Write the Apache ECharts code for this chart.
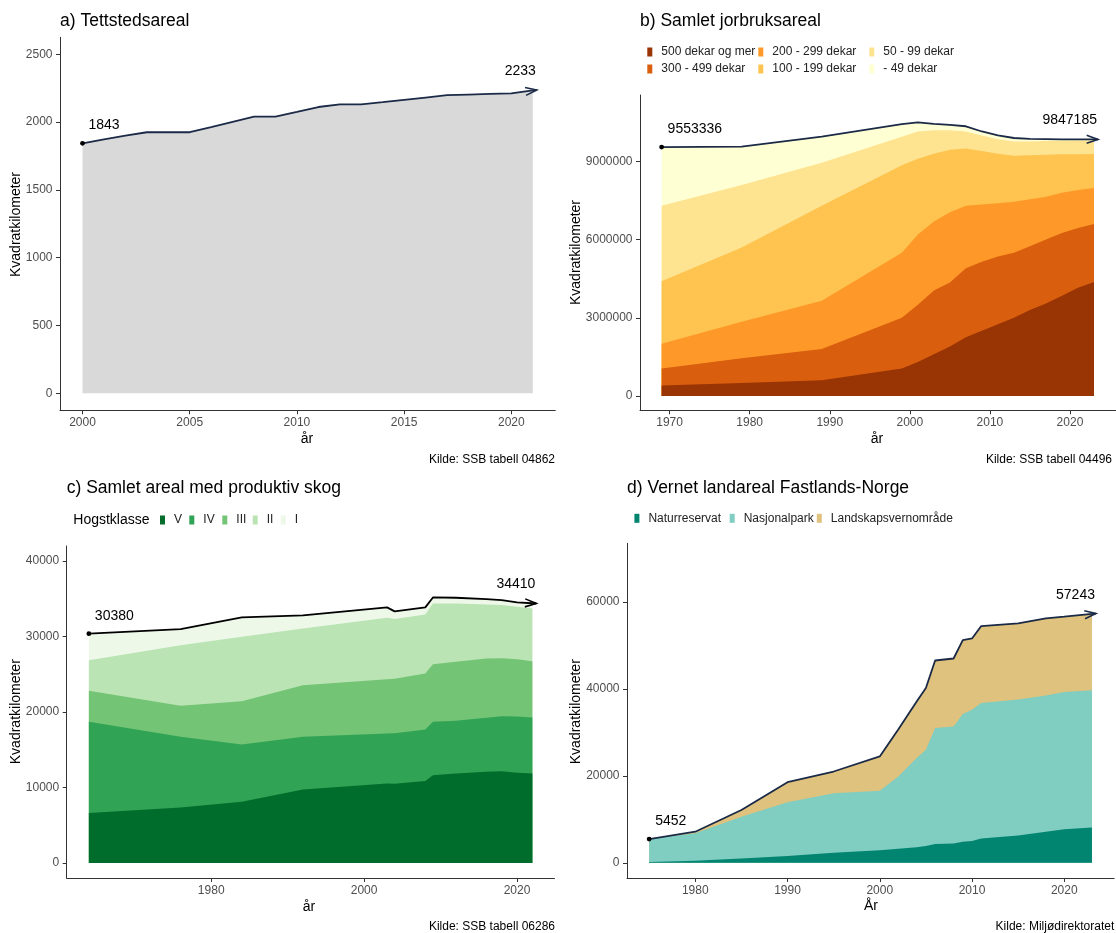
<!DOCTYPE html>
<html><head><meta charset="utf-8">
<script src="https://cdn.jsdelivr.net/npm/echarts@6/dist/echarts.min.js"></script>
<style>html,body{margin:0;padding:0;background:#fff}#c{width:1116px;height:933px}</style>
</head><body><div id="c"></div>
<script>
// ---------- a) Tettstedsareal ----------
const yearsA = [2000,2001,2002,2003,2004,2005,2006,2007,2008,2009,2010,2011,2012,2013,2014,2015,2016,2017,2018,2019,2020,2021];
const tettsted = [1843,1872,1900,1925,1925,1925,1963,2002,2040,2040,2075,2111,2131,2131,2147,2164,2181,2198,2203,2208,2212,2233];
const xTicksA = [2000,2005,2010,2015,2020];
const yTicksA = [0,500,1000,1500,2000,2500];

// ---------- b) Samlet jorbruksareal ----------
const yearsB = [1969,1979,1989,1999,2001,2003,2005,2007,2009,2011,2013,2015,2017,2019,2021,2023];
const namesB = ['500 dekar og mer','300 - 499 dekar','200 - 299 dekar','100 - 199 dekar','50 - 99 dekar','- 49 dekar'];
const b500 = [400000,500000,600000,1050000,1300000,1600000,1900000,2250000,2500000,2750000,3000000,3300000,3550000,3850000,4150000,4370000];
const b300 = [650000,950000,1200000,1950000,2200000,2450000,2450000,2650000,2650000,2600000,2500000,2450000,2450000,2400000,2300000,2230000];
const b200 = [950000,1400000,1850000,2500000,2700000,2650000,2700000,2400000,2200000,2050000,1950000,1800000,1650000,1550000,1450000,1380000];
const b100 = [2400000,2850000,3650000,3350000,2900000,2600000,2400000,2200000,2050000,1900000,1770000,1690000,1610000,1480000,1380000,1310000];
const b50  = [2900000,2400000,1650000,1100000,1050000,900000,750000,650000,600000,550000,550000,530000,520000,510000,520000,510000];
const b49  = [2253336,1470000,1000000,480000,350000,240000,200000,200000,150000,150000,130000,100000,80000,60000,50000,47185];
const totalB = [9553336,9570000,9950000,10430000,10500000,10440000,10400000,10350000,10150000,10000000,9900000,9870000,9860000,9850000,9850000,9847185];
const xTicksB = [1970,1980,1990,2000,2010,2020];
const yTicksB = [0,3000000,6000000,9000000];

// ---------- c) Samlet areal med produktiv skog ----------
const yearsC = [1964,1976,1984,1992,2003,2004,2008,2009,2012,2016,2018,2020,2022];
const namesC = ['V','IV','III','II','I'];
const cV   = [6630,7340,8090,9720,10520,10500,10870,11620,11850,12070,12150,11950,11850];
const cIV  = [12070,9370,7600,6990,6630,6700,6810,7080,6980,7160,7300,7450,7420];
const cIII = [4110,4110,5750,6850,7200,7200,7430,7640,7820,7870,7690,7600,7470];
const cII  = [4060,8040,8530,7510,8140,7910,7820,8050,7740,7160,7030,6950,6990];
const cI   = [3510,2120,2560,1730,1370,1020,930,790,750,700,660,570,680];
const totalC = [30380,30980,32530,32800,33860,33330,33860,35180,35140,34960,34830,34520,34410];
const xTicksC = [1980,2000,2020];
const yTicksC = [0,10000,20000,30000,40000];

// ---------- d) Vernet landareal Fastlands-Norge ----------
const yearsD = [1975,1980,1985,1990,1995,2000,2002,2004,2005,2006,2008,2009,2010,2011,2015,2018,2020,2023];
const namesD = ['Naturreservat','Nasjonalpark','Landskapsvernområde'];
const dNR = [200,450,1000,1550,2300,2900,3250,3600,3850,4300,4450,4850,5000,5600,6250,7150,7700,8100];
const dNP = [5252,6320,9600,12370,13700,13700,16600,20480,22150,26700,26930,29380,30230,31170,31290,31310,31600,31600];
const dLV = [0,380,1550,4620,5000,7860,10840,13000,14230,15540,15620,17000,16380,17690,17540,17770,17310,17543];
const totalD = [5452,7150,12150,18540,21000,24460,30690,37080,40230,46540,47000,51230,51610,54460,55080,56230,56610,57243];
const xTicksD = [1980,1990,2000,2010,2020];
const yTicksD = [0,20000,40000,60000];

const FONT = '"Liberation Sans", Arial, sans-serif';
const NAVY = '#1b2a47';

function pairs(xs, ys) { return xs.map((x, i) => [x, ys[i]]); }

// running sums of the stacked layers (bottom layer first)
function cumulate(layers) {
  const out = [];
  layers.forEach((ys, k) => {
    out.push(ys.map((v, i) => v + (k ? out[k - 1][i] : 0)));
  });
  return out;
}

function axis(gridIndex, min, max, ticks, isX) {
  return {
    type: 'value', gridIndex, min, max,
    axisLine: { show: true, onZero: false, lineStyle: { color: '#333', width: 1 } },
    axisTick: { show: true, length: 4, customValues: ticks, lineStyle: { color: '#333', width: 1 } },
    axisLabel: { customValues: ticks, formatter: v => String(v), color: '#4d4d4d', fontSize: 12, fontFamily: FONT, margin: isX ? 6.5 : 7.5 },
    splitLine: { show: false }
  };
}

function areaSeries(name, color, xs, ys, gi) {
  return {
    type: 'line', name, xAxisIndex: gi, yAxisIndex: gi, color,
    data: pairs(xs, ys), showSymbol: false, symbol: 'none', silent: true,
    lineStyle: { width: 0, color }, itemStyle: { color },
    areaStyle: { color, opacity: 1, origin: 0 }, z: 2
  };
}

function totalLine(name, color, xs, ys, gi) {
  return {
    type: 'line', name, xAxisIndex: gi, yAxisIndex: gi, data: pairs(xs, ys),
    showSymbol: false, symbol: 'none', silent: true,
    lineStyle: { width: 1.8, color }, z: 5
  };
}

function annot(gi, xs, ys, color) {
  const n = xs.length;
  return {
    type: 'custom', xAxisIndex: gi, yAxisIndex: gi, z: 10, silent: true,
    encode: { x: 0, y: 1 },
    data: [[xs[0], ys[0], xs[0], ys[0], 0], [xs[n - 1], ys[n - 1], xs[n - 2], ys[n - 2], 1]],
    renderItem(params, api) {
      const p = api.coord([api.value(0), api.value(1)]);
      const q = api.coord([api.value(2), api.value(3)]);
      const kind = api.value(4);
      const label = String(api.value(1));
      const ts = { text: label, fontSize: 14, fontFamily: FONT, fill: '#000', verticalAlign: 'middle' };
      if (kind === 0) {
        return { type: 'group', children: [
          { type: 'circle', shape: { cx: p[0], cy: p[1], r: 2.4 }, style: { fill: '#000' } },
          { type: 'text', x: p[0] + 6, y: p[1] - 18, style: Object.assign({ align: 'left' }, ts) }
        ] };
      }
      const ang = Math.atan2(p[1] - q[1], p[0] - q[0]);
      const tip = [p[0] + 4 * Math.cos(ang), p[1] + 4 * Math.sin(ang)];
      const L = 12, h = 0.34;
      const a1 = [tip[0] - L * Math.cos(ang - h), tip[1] - L * Math.sin(ang - h)];
      const a2 = [tip[0] - L * Math.cos(ang + h), tip[1] - L * Math.sin(ang + h)];
      return { type: 'group', children: [
        { type: 'polyline', shape: { points: [p, tip] }, style: { stroke: color, lineWidth: 1.8, fill: null } },
        { type: 'polyline', shape: { points: [a1, tip, a2] }, style: { stroke: color, lineWidth: 1.6, fill: null } },
        { type: 'text', x: p[0] + 3, y: p[1] - 19, style: Object.assign({ align: 'right' }, ts) }
      ] };
    }
  };
}

function legendItem(name, left, cy) {
  return {
    data: [name], left, top: cy - 7, orient: 'horizontal', padding: 0,
    itemWidth: 5, itemHeight: 9, icon: 'rect', selectedMode: false,
    itemStyle: { borderWidth: 0 },
    textStyle: { fontSize: 12, color: '#222', fontFamily: FONT, lineHeight: 14, padding: [0, 0, 0, 4] }
  };
}

function txt(text, x, y, size, align, opts) {
  return Object.assign({
    type: 'text', x, y, silent: true,
    style: { text, fontSize: size, fontFamily: FONT, fill: '#000', align, verticalAlign: 'middle' }
  }, opts || {});
}

const colorsB = ['#993404','#d95f0e','#fe9929','#fec44f','#fee391','#ffffd4'];
const colorsC = ['#006d2c','#31a354','#74c476','#bae4b3','#edf8e9'];
const colorsD = ['#018571','#80cdc1','#dfc27d'];

const cumB = cumulate([b500, b300, b200, b100, b50, b49]);
const cumC = cumulate([cV, cIV, cIII, cII, cI]);
const cumD = cumulate([dNR, dNP, dLV]);

const series = [];
// a
series.push({
  type: 'line', name: 'Tettstedsareal', xAxisIndex: 0, yAxisIndex: 0, data: pairs(yearsA, tettsted),
  showSymbol: false, symbol: 'none', silent: true, lineStyle: { width: 0 },
  areaStyle: { color: '#d9d9d9', opacity: 1, origin: 0 }, z: 2
});
series.push(totalLine('Totalt a', NAVY, yearsA, tettsted, 0));
series.push(annot(0, yearsA, tettsted, NAVY));
// stacked panels: draw top cumulative layer first so lower layers paint over it
function pushStack(cum, names, colors, xs, gi) {
  for (let k = cum.length - 1; k >= 0; k--) series.push(areaSeries(names[k], colors[k], xs, cum[k], gi));
}
pushStack(cumB, namesB, colorsB, yearsB, 1);
series.push(totalLine('Totalt b', NAVY, yearsB, totalB, 1));
series.push(annot(1, yearsB, totalB, NAVY));
pushStack(cumC, namesC, colorsC, yearsC, 2);
series.push(totalLine('Totalt c', '#000000', yearsC, totalC, 2));
series.push(annot(2, yearsC, totalC, '#000000'));
pushStack(cumD, namesD, colorsD, yearsD, 3);
series.push(totalLine('Totalt d', NAVY, yearsD, totalD, 3));
series.push(annot(3, yearsD, totalD, NAVY));

const option = {
  animation: false,
  backgroundColor: '#ffffff',
  textStyle: { fontFamily: FONT },
  grid: [
    { left: 60, top: 37.3, width: 495.3, height: 373, outerBoundsMode: 'none', containLabel: false },
    { left: 640, top: 95, width: 475.6, height: 315.3, outerBoundsMode: 'none', containLabel: false },
    { left: 66.7, top: 546, width: 487.8, height: 332, outerBoundsMode: 'none', containLabel: false },
    { left: 627, top: 543.3, width: 487.1, height: 334.7, outerBoundsMode: 'none', containLabel: false }
  ],
  xAxis: [
    axis(0, 1998.95, 2022.05, xTicksA, true),
    axis(1, 1966.3, 2025.7, xTicksB, true),
    axis(2, 1961.1, 2024.9, xTicksC, true),
    axis(3, 1972.6, 2025.4, xTicksD, true)
  ],
  yAxis: [
    axis(0, -125, 2625, yTicksA, false),
    axis(1, -550000, 11550000, yTicksB, false),
    axis(2, -2000, 42000, yTicksC, false),
    axis(3, -3500, 73500, yTicksD, false)
  ],
  legend: [
    legendItem(namesB[0], 647.3, 52), legendItem(namesB[1], 647.3, 69),
    legendItem(namesB[2], 758.3, 52), legendItem(namesB[3], 758.3, 69),
    legendItem(namesB[4], 869.3, 52), legendItem(namesB[5], 869.3, 69),
    legendItem(namesC[0], 160, 520), legendItem(namesC[1], 189.3, 520), legendItem(namesC[2], 222.3, 520),
    legendItem(namesC[3], 252.7, 520), legendItem(namesC[4], 280.7, 520),
    legendItem(namesD[0], 634.4, 518.3), legendItem(namesD[1], 729.7, 518.3), legendItem(namesD[2], 816.8, 518.3)
  ],
  graphic: { elements: [
    txt('a) Tettstedsareal', 60, 21, 17.5, 'left'),
    txt('b) Samlet jorbruksareal', 640, 21, 17.5, 'left'),
    txt('c) Samlet areal med produktiv skog', 66.7, 488.3, 17.5, 'left'),
    txt('d) Vernet landareal Fastlands-Norge', 627, 488.3, 17.5, 'left'),
    txt('Hogstklasse', 73.3, 520, 14, 'left'),
    txt('Kvadratkilometer', 16, 224.5, 14, 'center', { rotation: Math.PI / 2 }),
    txt('Kvadratkilometer', 576, 252.5, 14, 'center', { rotation: Math.PI / 2 }),
    txt('Kvadratkilometer', 16, 711.7, 14, 'center', { rotation: Math.PI / 2 }),
    txt('Kvadratkilometer', 576, 711.7, 14, 'center', { rotation: Math.PI / 2 }),
    txt('år', 307, 439.3, 14, 'center'),
    txt('år', 877, 439.3, 14, 'center'),
    txt('år', 309, 907.3, 14, 'center'),
    txt('År', 871, 906.3, 14, 'center'),
    txt('Kilde: SSB tabell 04862', 555, 460, 12, 'right'),
    txt('Kilde: SSB tabell 04496', 1112, 460, 12, 'right'),
    txt('Kilde: SSB tabell 06286', 555, 926.3, 12, 'right'),
    txt('Kilde: Miljødirektoratet', 1114.3, 926.3, 12, 'right')
  ] },
  series
};

const chart = echarts.init(document.getElementById('c'), null, { renderer: 'canvas' });
chart.setOption(option);
</script></body></html>
